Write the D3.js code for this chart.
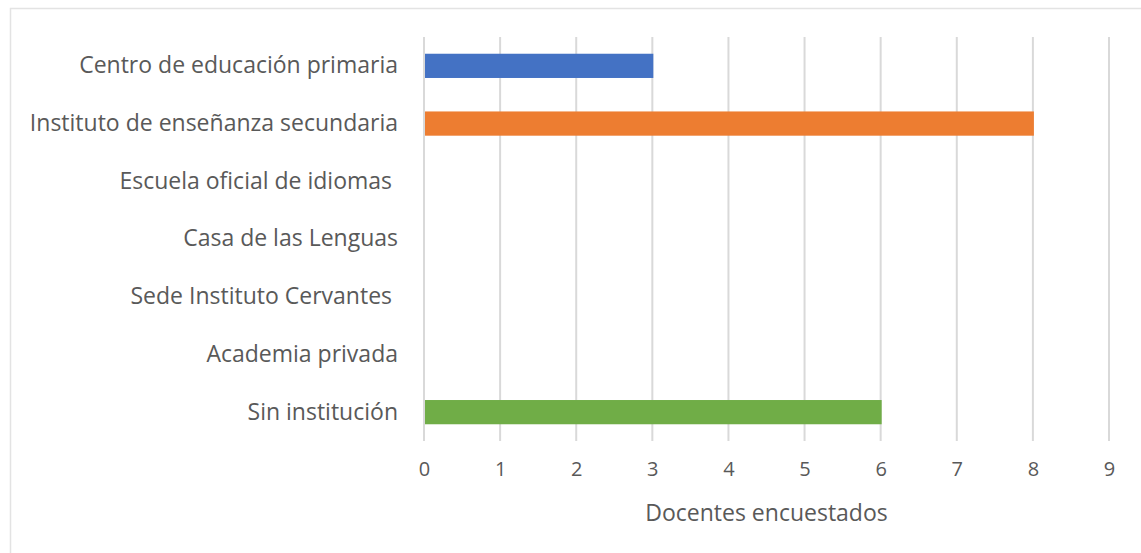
<!DOCTYPE html>
<html>
<head>
<meta charset="utf-8">
<script src="https://cdn.jsdelivr.net/npm/d3@7"></script>
<style>
  body { margin: 0; background: #fff; }
  text { font-family: "Open Sans", "Noto Sans", sans-serif; fill: #595959; white-space: pre; }
</style>
</head>
<body>
<script>
const categories = [
  "Centro de educación primaria",
  "Instituto de enseñanza secundaria",
  "Escuela oficial de idiomas ",
  "Casa de las Lenguas",
  "Sede Instituto Cervantes ",
  "Academia privada",
  "Sin institución"
];
const values = [3, 8, 0, 0, 0, 0, 6];
const colors = ["#4472C4", "#ED7D31", "#A5A5A5", "#FFC000", "#5B9BD5", "#264478", "#70AD47"];
const xTicks = [0, 1, 2, 3, 4, 5, 6, 7, 8, 9];
const xTitle = "Docentes encuestados";

const W = 1141, H = 553;
const margin = {top: 37, right: 32, bottom: 112, left: 424};
const width = W - margin.left - margin.right;
const height = H - margin.top - margin.bottom;

const svg = d3.select("body").append("svg")
  .attr("width", W)
  .attr("height", H);

// chart area border
svg.append("rect")
  .attr("x", 10.5).attr("y", 8.5)
  .attr("width", W + 10).attr("height", H + 10)
  .attr("fill", "none")
  .attr("stroke", "#e3e3e3")
  .attr("stroke-width", 1.5);

const g = svg.append("g")
  .attr("transform", `translate(${margin.left}, ${margin.top})`);

const xScale = d3.scaleLinear()
  .domain([0, 9])
  .range([0, width]);

const yScale = d3.scaleBand()
  .domain(categories)
  .range([0, height])
  .paddingInner(0.58)
  .paddingOuter(0.29);

// gridlines
g.selectAll(".grid")
  .data(xTicks)
  .enter().append("line")
  .attr("class", "grid")
  .attr("x1", d => xScale(d)).attr("x2", d => xScale(d))
  .attr("y1", 0).attr("y2", height)
  .attr("stroke", "#d9d9d9")
  .attr("stroke-width", 2);

// bars
g.selectAll(".bar")
  .data(values)
  .enter().append("rect")
  .attr("class", "bar")
  .attr("x", xScale(0) + 1)
  .attr("y", (d, i) => yScale(categories[i]))
  .attr("width", d => Math.max(0, xScale(d) - xScale(0)))
  .attr("height", yScale.bandwidth())
  .attr("fill", (d, i) => colors[i]);

// x axis
const xAxis = d3.axisBottom(xScale)
  .tickValues(xTicks)
  .tickSize(0)
  .tickPadding(21);

g.append("g")
  .attr("class", "axis x")
  .attr("transform", `translate(0, ${height})`)
  .call(xAxis)
  .call(s => s.select(".domain").remove())
  .selectAll("text")
  .style("font-size", "20px")
  .attr("fill", "#595959");

// y axis labels
const yAxis = d3.axisLeft(yScale).tickSize(0).tickPadding(26);
g.append("g")
  .attr("class", "axis y")
  .call(yAxis)
  .call(s => s.select(".domain").remove())
  .selectAll("text")
  .style("font-size", "23px")
  .attr("fill", "#595959");

// axis title
g.append("text")
  .attr("x", width / 2)
  .attr("y", height + 80)
  .attr("text-anchor", "middle")
  .style("font-size", "23px")
  .text(xTitle);
</script>
</body>
</html>
